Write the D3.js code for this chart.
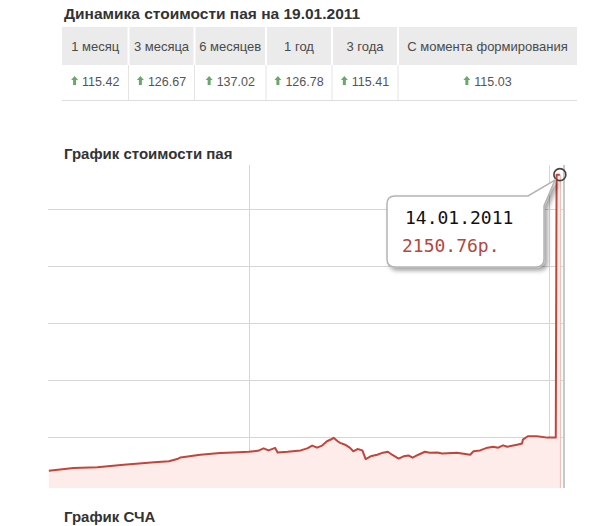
<!DOCTYPE html>
<html><head><meta charset="utf-8">
<script src="https://cdn.jsdelivr.net/npm/d3@7"></script>
<style>
body{margin:0;background:#fff;}
svg{display:block;font-family:Arial,"Liberation Sans",sans-serif;}
</style></head>
<body>
<script>
const tableTitle = "Динамика стоимости пая на 19.01.2011";
const periods = ["1 месяц","3 месяца","6 месяцев","1 год","3 года","С момента формирования"];
const periodValues = ["115.42","126.67","137.02","126.78","115.41","115.03"];
const chartTitle = "График стоимости пая";
const nextTitle = "График СЧА";
const dates = ["2009-05-03","2009-06-02","2009-07-01","2009-08-02","2009-09-08","2009-09-26","2009-10-06","2009-10-10","2009-11-03","2009-11-27","2009-12-13",
"2010-01-01","2010-01-12","2010-01-19","2010-01-25","2010-02-02","2010-02-05","2010-02-17","2010-03-05","2010-03-13","2010-03-19","2010-03-25","2010-03-31",
"2010-04-06","2010-04-12","2010-04-14","2010-04-19","2010-04-22","2010-04-28","2010-05-04","2010-05-08","2010-05-13","2010-05-19","2010-05-23","2010-05-29",
"2010-06-06","2010-06-13","2010-06-19","2010-06-24","2010-07-02","2010-07-08","2010-07-14","2010-07-19","2010-07-26","2010-08-03","2010-08-09","2010-08-18",
"2010-08-24","2010-09-11","2010-09-27","2010-10-01","2010-10-09","2010-10-18","2010-10-25","2010-10-31","2010-11-06","2010-11-11","2010-11-23","2010-11-29",
"2010-11-30","2010-12-06","2010-12-17","2010-12-30","2011-01-09","2011-01-10","2011-01-14"];
const prices = [852,864,867,878,889,893,903,910,922,930,932,
935,939,950,941,952,932,935,941,950,962,953,962,
981,991,996,981,974,966,952,937,947,941,903,915,
922,931,935,922,905,915,919,909,922,935,931,932,
927,931,922,937,941,953,957,953,963,957,966,971,
988,1003,1003,997,997,2150,2150.76];
const yGridValues = [1000,1250,1500,1750,2000];
const xGridDates = ["2010-01-01","2011-01-01"];
const tipDate = "14.01.2011";
const tipValue = "2150.76р.";

const W=593,H=526;
const svg=d3.select("body").append("svg").attr("width",W).attr("height",H);
const defs=svg.append("defs");
const f=defs.append("filter").attr("id","sh").attr("x","-20%").attr("y","-20%").attr("width","150%").attr("height","150%");
f.append("feDropShadow").attr("dx",3).attr("dy",3).attr("stdDeviation",2).attr("flood-color","#000").attr("flood-opacity",0.35);

// ---- table ----
svg.append("text").attr("x",64).attr("y",18.5).attr("font-size",15.5).attr("font-weight","bold").attr("fill","#333").text(tableTitle);
const colEdges=[62,128.5,194.5,266,332,398,577];
const tx=i=>(colEdges[i]+colEdges[i+1])/2;
svg.append("rect").attr("x",62).attr("y",27).attr("width",515).attr("height",38).attr("fill","#ebebeb");
const g=svg.append("g");
colEdges.slice(1,-1).forEach(x=>{
  g.append("line").attr("x1",x).attr("x2",x).attr("y1",27).attr("y2",65).attr("stroke","#fff").attr("stroke-width",2);
  g.append("line").attr("x1",x).attr("x2",x).attr("y1",65).attr("y2",100).attr("stroke","#e4e4e4").attr("stroke-width",1);
});
svg.append("line").attr("x1",62).attr("x2",577).attr("y1",100.5).attr("y2",100.5).attr("stroke","#ddd");
periods.forEach((p,i)=>{
  svg.append("text").attr("x",tx(i)).attr("y",50.5).attr("text-anchor","middle").attr("font-size",13).attr("fill","#4a4a4a").text(p);
  const cell=svg.append("g");
  const t=cell.append("text").attr("x",0).attr("y",86).attr("font-size",12.5).attr("fill","#555").text(periodValues[i]);
  const tw=t.node().getComputedTextLength();
  const aw=7, gap=4, total=aw+gap+tw;
  const x0=tx(i)-total/2;
  t.attr("x",x0+aw+gap);
  cell.append("path").attr("d",`M${x0+3.5},76 L${x0+7},80 L${x0+5},80 L${x0+5},85 L${x0+2},85 L${x0+2},80 L${x0},80 Z`).attr("fill","#6aa86a");
});

// ---- chart ----
svg.append("text").attr("x",64).attr("y",158.5).attr("font-size",15).attr("font-weight","bold").attr("fill","#333").text(chartTitle);
svg.append("text").attr("x",64).attr("y",522).attr("font-size",15).attr("font-weight","bold").attr("fill","#333").text(nextTitle);

const pt=d3.utcParse("%Y-%m-%d");
const data=dates.map((d,i)=>({d:pt(d),v:prices[i]}));
const x=d3.scaleUtc().domain([pt("2009-05-02"),pt("2011-01-19")]).range([48,564]);
const y=d3.scaleLinear().domain([776,2193]).range([488,165]);

const grid=svg.append("g");
yGridValues.forEach(v=>grid.append("line").attr("x1",48).attr("x2",564).attr("y1",Math.round(y(v))+0.5).attr("y2",Math.round(y(v))+0.5).attr("stroke","#d6d6d6"));
xGridDates.forEach(d=>grid.append("line").attr("x1",Math.round(x(pt(d)))+0.5).attr("x2",Math.round(x(pt(d)))+0.5).attr("y1",165).attr("y2",488).attr("stroke","#d6d6d6"));

svg.append("path").datum(data).attr("fill","#fdecea")
  .attr("d",d3.area().x(d=>x(d.d)).y0(488).y1(d=>y(d.v)));
svg.append("line").attr("x1",x(data[data.length-1].d)+0.5).attr("x2",x(data[data.length-1].d)+0.5)
  .attr("y1",y(prices[prices.length-1])).attr("y2",488).attr("stroke","#f4b8b0").attr("stroke-width",1);
svg.append("path").datum(data).attr("fill","none").attr("stroke","#c4443a").attr("stroke-width",2).attr("stroke-linejoin","round")
  .attr("d",d3.line().x(d=>x(d.d)).y(d=>y(d.v)));
svg.append("line").attr("x1",564).attr("x2",564).attr("y1",165).attr("y2",488).attr("stroke","#c8c8c8").attr("stroke-width",2);

// marker
const last=data[data.length-1];
svg.append("circle").attr("cx",x(last.d)).attr("cy",y(last.v)).attr("r",6).attr("fill","none").attr("stroke","#444").attr("stroke-width",1.6);

// tooltip
const tip=svg.append("g");
tip.append("path").attr("d","M395,196 L528,196 L555,180 L544,206 L544,259 Q544,267 536,267 L395,267 Q387,267 387,259 L387,204 Q387,196 395,196 Z")
  .attr("fill","#fff").attr("stroke","#b4b4b4").attr("stroke-width",1.5).attr("filter","url(#sh)");
tip.append("text").attr("x",405).attr("y",224).attr("font-family","'DejaVu Sans Mono',monospace").attr("font-size",18).attr("fill","#111").text(tipDate);
tip.append("text").attr("x",402).attr("y",251.5).attr("font-family","'DejaVu Sans Mono',monospace").attr("font-size",18).attr("fill","#b5473c").text(tipValue);
</script>
</body></html>
